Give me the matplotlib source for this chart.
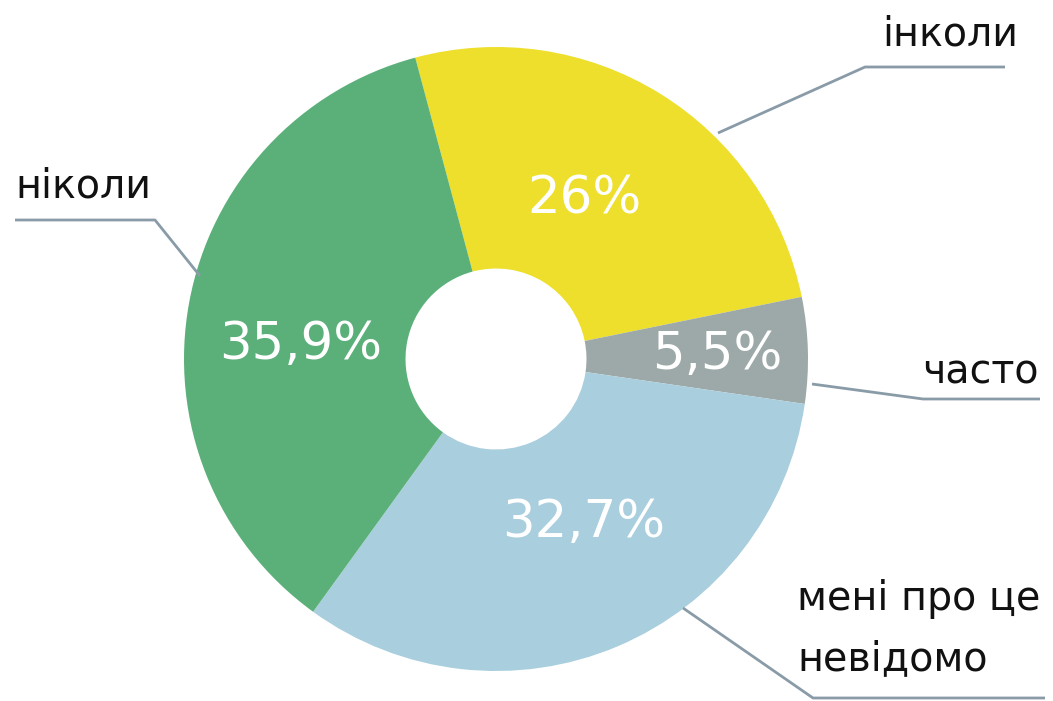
import matplotlib
matplotlib.use('Agg')
import matplotlib.pyplot as plt

# Дані
labels = ['інколи', 'часто', 'мені про це\nневідомо', 'ніколи']
values = [26.0, 5.5, 32.7, 35.9]
pct_text = ['26%', '5,5%', '32,7%', '35,9%']
colors = ['#EDDF2C', '#9DA9A8', '#A9CEDE', '#5BB07A']

W, H = 1053, 701
line_color = '#8A9BA8'

plt.rcParams['font.family'] = ['DejaVu Sans']

fig = plt.figure(figsize=(W / 100, H / 100), dpi=100)
ax = fig.add_axes([0, 0, 1, 1])

# центр і радіус кільця в пікселях (y догори)
cx, cy, r = 496, H - 359, 312

ax.pie(values, colors=colors, startangle=105, counterclock=False,
       center=(cx, cy), radius=r,
       wedgeprops=dict(width=r * 0.71, linewidth=0))

ax.set_xlim(0, W)
ax.set_ylim(0, H)
ax.set_aspect('equal')
ax.axis('off')

# відсотки всередині
pct_pos = [(584, 200), (717, 355), (584, 523), (301, 345)]
for t, (x, y) in zip(pct_text, pct_pos):
    ax.text(x, H - y, t, color='white', fontsize=37,
            ha='center', va='center')

# підписи з виносками
leaders = [
    [(718, 133), (865, 67), (1005, 67)],
    [(812, 384), (923, 399), (1040, 399)],
    [(683, 608), (813, 698), (1045, 698)],
    [(200, 276), (155, 220), (15, 220)],
]
label_pos = [(882, 45), (922, 383), (797, 670), (15, 197)]

for pts, lab, (x, y) in zip(leaders, labels, label_pos):
    xs = [p[0] for p in pts]
    ys = [H - p[1] for p in pts]
    ax.plot(xs, ys, color=line_color, lw=2, solid_capstyle='butt')
    ax.text(x, H - y, lab, fontsize=28.5, color='#111111', ha='left', va='baseline',
            linespacing=1.65)

fig.savefig('out.png', dpi=100)
